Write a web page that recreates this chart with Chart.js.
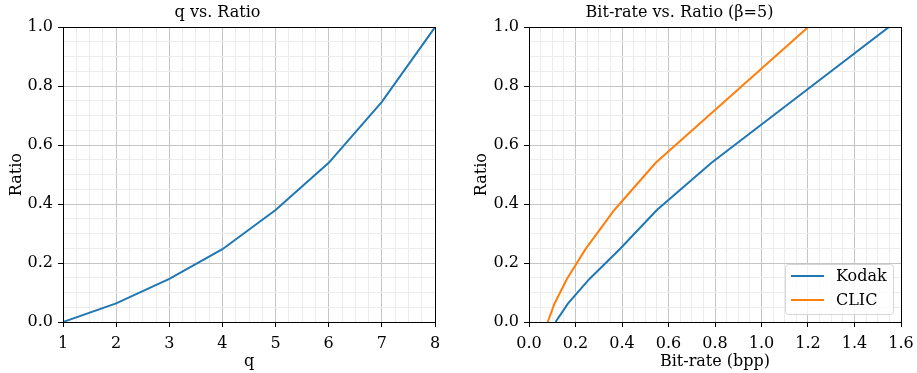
<!DOCTYPE html>
<html>
<head>
<meta charset="utf-8">
<script src="https://cdn.jsdelivr.net/npm/chart.js@4"></script>
<style>
  body { margin: 0; background: #fff; }
  .box { position: absolute; top: 0; height: 373px; }
  #leftBox { left: 0; width: 458px; }
  #rightBox { left: 458px; width: 459px; }
</style>
</head>
<body>
<div class="box" id="leftBox"><canvas id="qChart"></canvas></div>
<div class="box" id="rightBox"><canvas id="rateChart"></canvas></div>
<script>
// values
const qValues = [1, 2, 3, 4, 5, 6, 7, 8]
const ratioValues = [0, 0.063, 0.146, 0.247, 0.38, 0.54, 0.747, 1.0]
const kodakBitrate = [0.114, 0.168, 0.26, 0.39, 0.55, 0.785, 1.128, 1.547]
const clicBitrate = [0.0805, 0.11, 0.163, 0.243, 0.367, 0.545, 0.84, 1.2]
const seriesNames = ["Kodak", "CLIC"]

const blue = "#1f77b4"
const orange = "#ff7f0e"
const serif = "'DejaVu Serif', serif"

const toPoints = (xs, ys) => xs.map((x, i) => ({ x: x, y: ys[i] }))

const isMajor = function (v, step) {
     const k = v / step
     return Math.abs(k - Math.round(k)) < 1e-6
}

const makeAxis = function (min, max, minorStep, majorStep, digits, titleText, size, titlePad, isX) {
     return {
          type: "linear",
          min: min,
          max: max,
          afterFit: function (scale) {
               if (isX) {
                    scale.height = size
                    // don't let the end labels squeeze the plot
                    scale.paddingLeft = 0
                    scale.paddingRight = 0
               } else {
                    scale.width = size
               }
          },
          ticks: {
               stepSize: minorStep,
               autoSkip: false,
               maxRotation: 0,
               padding: isX ? 7 : 5,
               color: "#000",
               font: { family: serif, size: 16 },
               callback: function (v) {
                    return isMajor(v, majorStep) ? v.toFixed(digits) : ""
               }
          },
          grid: {
               tickLength: 5,
               color: function (ctx) {
                    return isMajor(ctx.tick.value, majorStep) ? "#c4c4c4" : "#ececec"
               },
               tickColor: function (ctx) {
                    return isMajor(ctx.tick.value, majorStep) ? "#000" : "rgba(0,0,0,0)"
               },
               lineWidth: 1
          },
          border: { display: false },
          title: {
               display: true,
               text: titleText,
               color: "#000",
               font: { family: serif, size: 16 },
               padding: { top: titlePad, bottom: 2 }
          }
     }
}

// black box round the plot area, like matplotlib spines
const framePlugin = {
     id: "frame",
     afterDraw: function (chart) {
          const a = chart.chartArea
          const c = chart.ctx
          c.save()
          c.strokeStyle = "#000"
          c.lineWidth = 1
          c.strokeRect(Math.round(a.left) + 0.5, Math.round(a.top) + 0.5, Math.round(a.right - a.left), Math.round(a.bottom - a.top))
          c.restore()
     }
}

// legend in the lower right corner of the plot
const boxLegend = {
     id: "boxLegend",
     afterDraw: function (chart) {
          const a = chart.chartArea
          const c = chart.ctx
          const w = 108, h = 50
          const x = a.right - 8 - w
          const y = a.bottom - 8 - h
          c.save()
          c.fillStyle = "rgba(255,255,255,0.8)"
          c.strokeStyle = "#d6d6d6"
          c.lineWidth = 1
          c.beginPath()
          c.roundRect(x + 0.5, y + 0.5, w, h, 3)
          c.fill()
          c.stroke()
          chart.data.datasets.forEach(function (ds, i) {
               const ly = y + 12 + i * 24
               c.strokeStyle = ds.borderColor
               c.lineWidth = 2
               c.beginPath()
               c.moveTo(x + 6, ly)
               c.lineTo(x + 39, ly)
               c.stroke()
               c.fillStyle = "#000"
               c.font = "16px " + serif
               c.textBaseline = "middle"
               c.fillText(ds.label, x + 51, ly + 1)
          })
          c.restore()
     }
}

const lineStyle = { borderWidth: 2, pointRadius: 0, tension: 0, fill: false }

const titleOpts = function (text) {
     return {
          display: true,
          text: text,
          color: "#000",
          font: { family: serif, size: 16, weight: "normal", lineHeight: 1.2 },
          padding: { top: 3, bottom: 5 }
     }
}

new Chart(document.getElementById("qChart"), {
     type: "scatter",
     data: {
          datasets: [Object.assign({
               label: "ratio",
               data: toPoints(qValues, ratioValues),
               borderColor: blue,
               backgroundColor: blue,
               showLine: true
          }, lineStyle)]
     },
     options: {
          responsive: true,
          maintainAspectRatio: false,
          animation: false,
          layout: { padding: { left: 0, right: 23, top: 0, bottom: 0 } },
          plugins: {
               legend: { display: false },
               tooltip: { enabled: false },
               title: titleOpts("q vs. Ratio")
          },
          scales: {
               x: makeAxis(1, 8, 0.25, 1, 0, "q", 51, 2, true),
               y: makeAxis(0, 1, 0.05, 0.2, 1, "Ratio", 63, 7, false)
          }
     },
     plugins: [framePlugin]
})

new Chart(document.getElementById("rateChart"), {
     type: "scatter",
     data: {
          datasets: [
               Object.assign({
                    label: seriesNames[0],
                    data: toPoints(kodakBitrate, ratioValues),
                    borderColor: blue,
                    backgroundColor: blue,
                    showLine: true
               }, lineStyle),
               Object.assign({
                    label: seriesNames[1],
                    data: toPoints(clicBitrate, ratioValues),
                    borderColor: orange,
                    backgroundColor: orange,
                    showLine: true
               }, lineStyle)
          ]
     },
     options: {
          responsive: true,
          maintainAspectRatio: false,
          animation: false,
          layout: { padding: { left: 0, right: 16, top: 0, bottom: 0 } },
          plugins: {
               legend: { display: false },
               tooltip: { enabled: false },
               title: titleOpts("Bit-rate vs. Ratio (β=5)")
          },
          scales: {
               x: makeAxis(0, 1.6, 0.05, 0.2, 1, "Bit-rate (bpp)", 51, 2, true),
               y: makeAxis(0, 1, 0.05, 0.2, 1, "Ratio", 71, 14, false)
          }
     },
     plugins: [framePlugin, boxLegend]
})
</script>
</body>
</html>
